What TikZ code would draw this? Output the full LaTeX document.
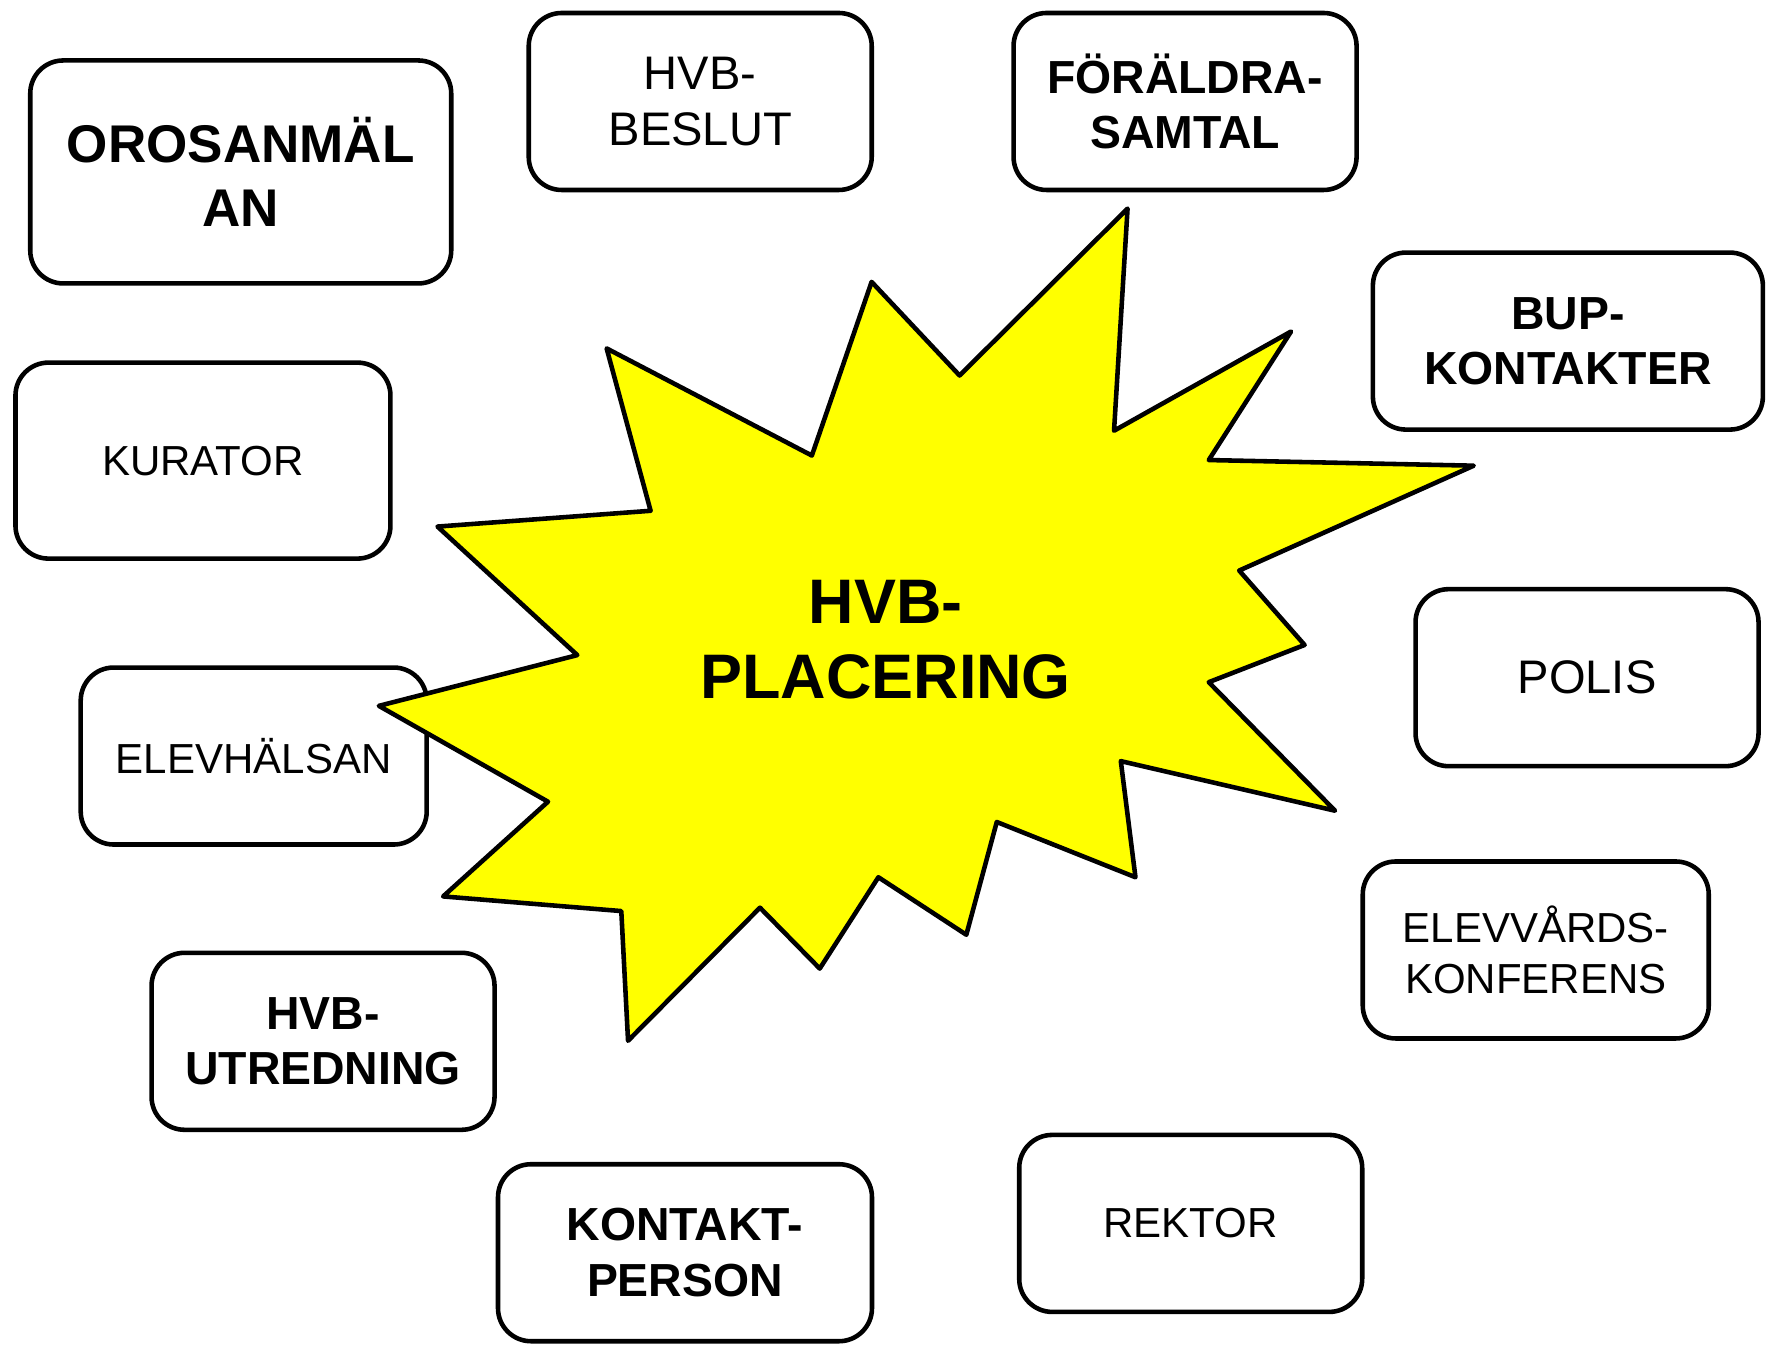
\documentclass[tikz,border=0pt]{standalone}
\usepackage{fontspec}
\setmainfont{Liberation Sans}
\newcommand{\regtext}{\fontsize{11.95pt}{14.3pt}\selectfont}
\newcommand{\bigregtext}{\fontsize{13.4pt}{16.1pt}\selectfont}
\newcommand{\boldtext}{\fontsize{13.2pt}{15.8pt}\selectfont\bfseries}
\newcommand{\bigboldtext}{\fontsize{15.1pt}{18.0pt}\selectfont\bfseries}
\newcommand{\hugeboldtext}{\fontsize{17.9pt}{21.4pt}\selectfont\bfseries}
\definecolor{starfill}{RGB}{255,255,0}
\tikzset{
  roundbox/.style={draw, fill=white, line width=1.3pt, rounded corners=0.33cm,
    align=center, inner sep=0pt, minimum width=3.43cm, minimum height=1.77cm,
    font=\regtext},
  boldbox/.style={roundbox, font=\boldtext},
}
\begin{document}
\begin{tikzpicture}[x=0.0112755cm, y=-0.0112755cm]
        \useasboundingbox (0,0) rectangle (1568,1195);
        %% boxes round the star
        \node[roundbox, font=\bigboldtext, minimum width=4.21cm, minimum height=2.23cm] (orosanmalan) at (213.5,152.5) {OROSANMÄL\\AN};
        \node[roundbox, font=\bigregtext] (hvbbeslut) at (621,90) {HVB-\\BESLUT};
        \node[boldbox] (foraldra) at (1051,90) {FÖRÄLDRA-\\SAMTAL};
        \node[boldbox, minimum width=3.90cm] (bup) at (1390.5,302.5) {BUP-\\KONTAKTER};
        \node[roundbox, minimum width=3.75cm, minimum height=1.96cm] (kurator) at (180,408.5) {KURATOR};
        \node[roundbox, font=\bigregtext] (polis) at (1407.5,601) {POLIS};
        \node[roundbox, minimum width=3.46cm] (elevhalsan) at (225,670.5) {ELEVHÄLSAN};
        \node[roundbox, minimum width=3.46cm] (elevvard) at (1362,842.5) {ELEVVÅRDS-\\KONFERENS};
        \node[boldbox] (utredning) at (286.5,923.5) {HVB-\\UTREDNING};
        \node[boldbox, minimum width=3.74cm] (kontakt) at (607.5,1111) {KONTAKT-\\PERSON};
        \node[roundbox] (rektor) at (1056,1085) {REKTOR};
        %% star
        \draw[fill=starfill, line width=1.3pt, line join=round]
          (1000,185) -- (988,382) -- (1145,294) -- (1072,408) -- (1307,413)
          -- (1099,506) -- (1157,572) -- (1072,605) -- (1184,719) -- (994,675)
          -- (1007,778) -- (884,729) -- (857,829) -- (779,778) -- (727,859)
          -- (674,805) -- (557,923) -- (551,808) -- (393,795) -- (486,711)
          -- (336,626) -- (512,581) -- (388,467) -- (577,453) -- (538,309)
          -- (720,404) -- (773,250) -- (851,333) -- cycle;
        \node[align=center, inner sep=0pt, font=\hugeboldtext] (placering) at (785.5,567) {HVB-\\PLACERING};
\end{tikzpicture}
\end{document}
